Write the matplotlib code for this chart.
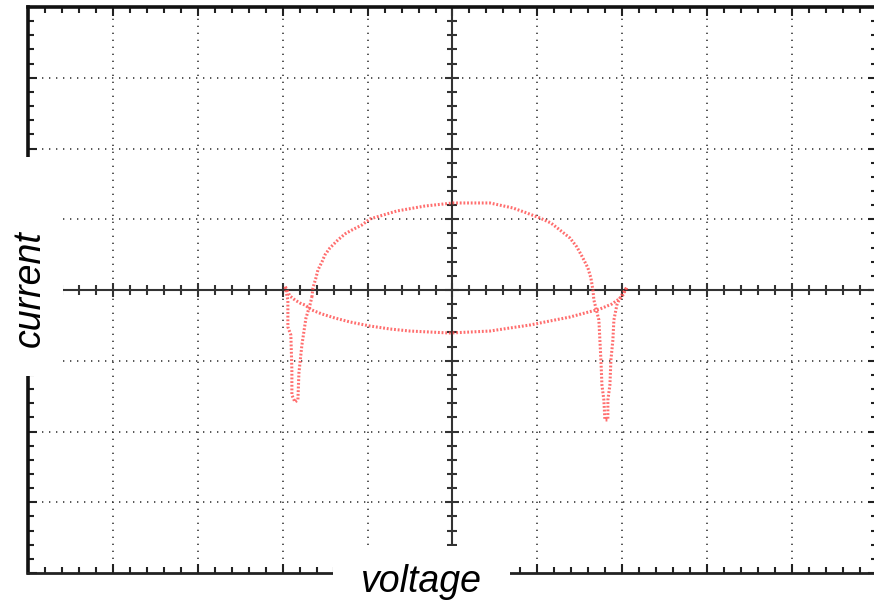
import matplotlib
matplotlib.use("Agg")
import matplotlib.pyplot as plt
from matplotlib.patches import Rectangle
from matplotlib.ticker import MultipleLocator
import numpy as np

# Trace (in screen divisions): one closed loop, voltage vs current
voltage = [
    -1.656, -1.644, -1.609, -1.585, -1.538, -1.503, -1.444, -1.350, -1.267, -1.185,
    -1.067, -0.973, -0.855, -0.655, -0.325, 0.005, 0.441, 0.712, 0.876, 1.029,
    1.159, 1.265, 1.383, 1.465, 1.536, 1.595, 1.630, 1.654, 1.665, 1.689,
    1.724, 1.736, 1.748, 1.760, 1.783, 1.795, 1.830, 1.830, 1.854, 1.866,
    1.889, 1.901, 1.936, 1.972, 2.019, 2.054,
    1.995, 1.877, 1.736, 1.559, 1.383, 1.147, 0.912, 0.676, 0.441, 0.205,
    -0.031, -0.266, -0.502, -0.737, -0.973, -1.208, -1.385, -1.538, -1.656, -1.738,
    -1.797, -1.856, -1.915, -1.950, -1.974,
    -1.939, -1.939, -1.904, -1.892, -1.892, -1.856, -1.821, -1.809, -1.774, -1.726,
    -1.679, -1.656,
]
current = [
    -0.099, 0.028, 0.170, 0.283, 0.396, 0.495, 0.594, 0.707, 0.792, 0.848,
    0.919, 1.004, 1.046, 1.117, 1.187, 1.230, 1.230, 1.159, 1.088, 1.018,
    0.947, 0.848, 0.735, 0.608, 0.452, 0.311, 0.170, 0.000, -0.141, -0.254,
    -0.424, -0.707, -0.989, -1.343, -1.555, -1.837, -1.837, -1.555, -1.343, -0.989,
    -0.707, -0.424, -0.212, -0.113, -0.028, 0.042,
    -0.099, -0.198, -0.269, -0.325, -0.382, -0.438, -0.495, -0.537, -0.580, -0.594,
    -0.608, -0.594, -0.580, -0.551, -0.509, -0.452, -0.396, -0.339, -0.283, -0.212,
    -0.184, -0.141, -0.085, 0.000, 0.057,
    -0.141, -0.523, -0.636, -1.131, -1.484, -1.583, -1.555, -1.173, -0.777, -0.396,
    -0.212, -0.099,
]

x_label = "voltage"
y_label = "current"

W, H = 874, 601
fig = plt.figure(figsize=(W / 100, H / 100), dpi=100)
ax = fig.add_axes([28 / W, 28 / H, 849 / W, 566 / H])
ax.set_xlim(-5, 5)
ax.set_ylim(-4, 4)

# dotted grid
grid_kw = dict(color="#3a3a3a", lw=1.2, ls=(0, (0.8, 3.4)), zorder=1)
for v in range(-4, 5):
    if v != 0:
        ax.axvline(v, **grid_kw)
for h in range(-3, 4):
    if h != 0:
        ax.axhline(h, **grid_kw)

# center crosshair with ticks
ax.axhline(0, color="#333333", lw=1.5, zorder=2)
ax.axvline(0, color="#333333", lw=1.5, zorder=2)
minor_x = np.round(np.arange(-5, 5.001, 0.2), 3)
minor_y = np.round(np.arange(-4, 4.001, 0.2), 3)
mx = [v for v in minor_x if abs(v - round(v)) > 1e-6]
Mx = [v for v in minor_x if abs(v - round(v)) <= 1e-6]
my = [v for v in minor_y if abs(v - round(v)) > 1e-6]
My = [v for v in minor_y if abs(v - round(v)) <= 1e-6]
ax.plot(mx, [0] * len(mx), ls="none", marker="|", ms=6.5, mew=1.5, color="#333333", zorder=2)
ax.plot(Mx, [0] * len(Mx), ls="none", marker="|", ms=10.5, mew=1.5, color="#333333", zorder=2)
ax.plot([0] * len(my), my, ls="none", marker="_", ms=6.5, mew=1.5, color="#333333", zorder=2)
ax.plot([0] * len(My), My, ls="none", marker="_", ms=10.5, mew=1.5, color="#333333", zorder=2)

# trace
ax.plot(voltage, current, color="#ff4a4a", lw=2.2, ls=(0, (0.6, 0.6)), alpha=0.8, zorder=3)

# frame
for s in ["left", "top"]:
    ax.spines[s].set_linewidth(2.6)
    ax.spines[s].set_color("#111111")
ax.spines["bottom"].set_linewidth(2.0)
ax.spines["bottom"].set_color("#222222")
ax.spines["right"].set_linewidth(2.0)
ax.xaxis.set_major_locator(MultipleLocator(1))
ax.xaxis.set_minor_locator(MultipleLocator(0.2))
ax.yaxis.set_major_locator(MultipleLocator(1))
ax.yaxis.set_minor_locator(MultipleLocator(0.2))
ax.tick_params(which="both", direction="in", top=True, right=True, bottom=True, left=True,
               labelbottom=False, labelleft=False, color="#222222", width=1.5)
ax.tick_params(which="major", length=6.5)
ax.tick_params(which="minor", length=4.0)

# label boxes that interrupt the frame
fig.add_artist(Rectangle((0, (H - 376) / H), 63 / W, 219 / H, transform=fig.transFigure,
                         facecolor="white", edgecolor="none", zorder=10))
fig.add_artist(Rectangle((333 / W, 0), 177 / W, 55 / H, transform=fig.transFigure,
                         facecolor="white", edgecolor="none", zorder=10))
fig.text(421 / W, 1 - 582 / H, x_label, ha="center", va="center", fontsize=27,
         style="italic", family="Liberation Sans", zorder=11)
fig.text(30 / W, 1 - 289 / H, y_label, ha="center", va="center", fontsize=27,
         style="italic", family="Liberation Sans", rotation=90, zorder=11)

fig.savefig("out.png", dpi=100)
